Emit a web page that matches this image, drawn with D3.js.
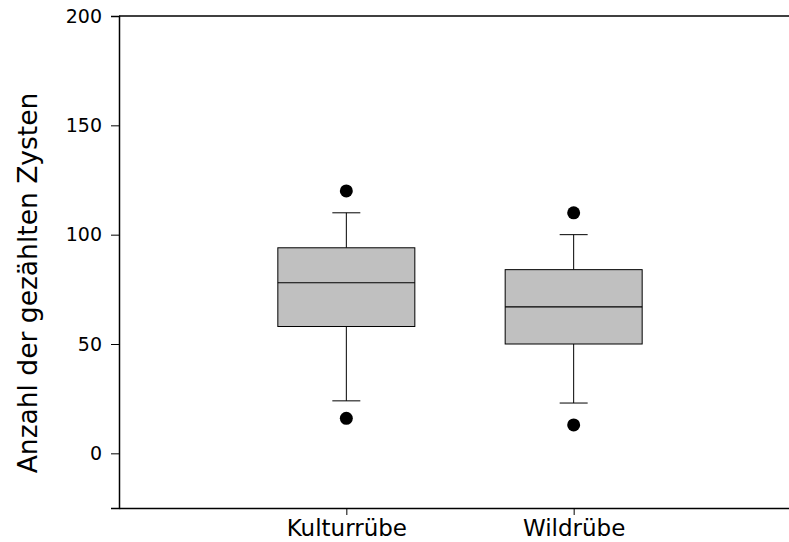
<!DOCTYPE html>
<html>
<head>
<meta charset="utf-8">
<script src="https://cdn.jsdelivr.net/npm/d3@7"></script>
<style>
  html, body { margin: 0; padding: 0; background: #fff; }
  svg text { font-family: "DejaVu Sans", Verdana, sans-serif; fill: #000; }
</style>
</head>
<body>
<svg id="chart" width="789" height="542"></svg>
<script>
// Box-plot summaries per beet type
const categories = ["Kulturrübe", "Wildrübe"];
const q1 = [58, 50];
const median = [78, 67];
const q3 = [94, 84];
const whiskerLow = [24, 23];
const whiskerHigh = [110, 100];
const outliers = [[120, 16], [110, 13]];
const yTicks = [0, 50, 100, 150, 200];
const yLabel = "Anzahl der gezählten Zysten";

const svg = d3.select("#chart");
const plot = { left: 119, top: 16, bottom: 508, right: 801 };

const y = d3.scaleLinear().domain([-25, 200]).range([plot.bottom, plot.top]);
const x = d3.scalePoint().domain(["", ...categories, " "]).range([plot.left, plot.right]);

const boxW = 137, capW = 28;

// top frame line across the plot
svg.append("line").attr("x1", plot.left).attr("x2", plot.right)
  .attr("y1", plot.top).attr("y2", plot.top)
  .attr("stroke", "#000").attr("stroke-width", 1.5);

// y axis
const yAxis = svg.append("g").attr("transform", `translate(${plot.left},0)`)
  .call(d3.axisLeft(y).tickValues(yTicks).tickSize(8).tickPadding(9));
yAxis.select(".domain").attr("stroke-width", 1.5);
yAxis.selectAll("text").style("font-size", "19px");

// x axis
const xAxis = svg.append("g").attr("transform", `translate(0,${plot.bottom})`)
  .call(d3.axisBottom(x).tickValues(categories).tickSize(7).tickPadding(5).tickSizeOuter(0));
xAxis.select(".domain").attr("stroke-width", 1.5);
xAxis.selectAll("text").style("font-size", "23px");

// y axis title
svg.append("text")
  .attr("transform", `translate(37,283) rotate(-90)`)
  .attr("text-anchor", "middle")
  .style("font-size", "26.5px")
  .text(yLabel);

const boxes = svg.append("g");
categories.forEach((c, i) => {
  const cx = x(c);
  const g = boxes.append("g");
  // whiskers
  g.append("line").attr("x1", cx).attr("x2", cx).attr("y1", y(q3[i])).attr("y2", y(whiskerHigh[i])).attr("stroke", "#000");
  g.append("line").attr("x1", cx).attr("x2", cx).attr("y1", y(q1[i])).attr("y2", y(whiskerLow[i])).attr("stroke", "#000");
  g.append("line").attr("x1", cx - capW / 2).attr("x2", cx + capW / 2).attr("y1", y(whiskerHigh[i])).attr("y2", y(whiskerHigh[i])).attr("stroke", "#000");
  g.append("line").attr("x1", cx - capW / 2).attr("x2", cx + capW / 2).attr("y1", y(whiskerLow[i])).attr("y2", y(whiskerLow[i])).attr("stroke", "#000");
  // box
  g.append("rect").attr("x", cx - boxW / 2).attr("width", boxW)
    .attr("y", y(q3[i])).attr("height", y(q1[i]) - y(q3[i]))
    .attr("fill", "#c0c0c0").attr("stroke", "#000").attr("stroke-width", 1);
  // median
  g.append("line").attr("x1", cx - boxW / 2).attr("x2", cx + boxW / 2)
    .attr("y1", y(median[i])).attr("y2", y(median[i])).attr("stroke", "#000").attr("stroke-width", 1.2);
  // outliers
  outliers[i].forEach(v => {
    g.append("circle").attr("cx", cx).attr("cy", y(v)).attr("r", 6.5).attr("fill", "#000");
  });
});
</script>
</body>
</html>
